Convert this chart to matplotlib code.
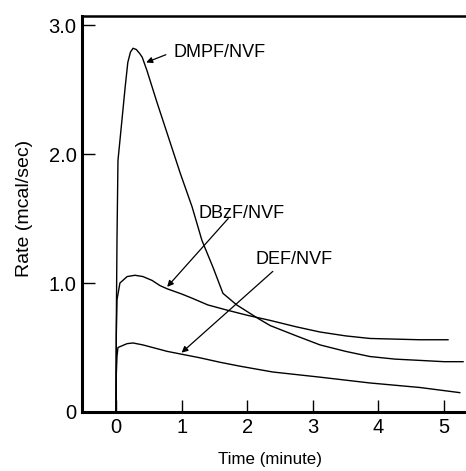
import matplotlib
matplotlib.use("Agg")
import matplotlib.pyplot as plt
from matplotlib.ticker import FixedLocator, FixedFormatter

plt.rcParams['font.family'] = ['Liberation Sans', 'DejaVu Sans']

# Data
dmpf_x = [0, 0.005, 0.015, 0.03, 0.09, 0.14, 0.18, 0.22, 0.26, 0.31, 0.36, 0.40, 0.47,
          0.625, 0.78, 0.98, 1.16, 1.31, 1.48, 1.63, 1.84, 2.15, 2.35, 2.75, 3.11, 3.5,
          3.87, 4.25, 4.63, 5.0, 5.29]
dmpf_y = [0, 0.7, 1.33, 1.95, 2.26, 2.52, 2.71, 2.79, 2.82, 2.81, 2.78, 2.75, 2.65,
          2.40, 2.16, 1.85, 1.59, 1.33, 1.12, 0.92, 0.83, 0.73, 0.67, 0.59, 0.52, 0.47,
          0.43, 0.41, 0.40, 0.39, 0.39]

dbzf_x = [0, 0.005, 0.015, 0.06, 0.17, 0.29, 0.41, 0.55, 0.67, 0.78, 1.0, 1.17, 1.4,
          1.69, 2.0, 2.35, 2.75, 3.11, 3.5, 3.87, 4.25, 4.63, 5.06]
dbzf_y = [0, 0.6, 0.87, 1.0, 1.05, 1.06, 1.05, 1.02, 0.98, 0.955, 0.915, 0.88, 0.83,
          0.79, 0.75, 0.71, 0.66, 0.62, 0.59, 0.57, 0.565, 0.56, 0.56]

def_x = [0, 0.005, 0.015, 0.03, 0.17, 0.26, 0.41, 0.78, 1.28, 1.59, 1.89, 2.39,
         3.11, 3.87, 4.63, 5.24]
def_y = [0, 0.3, 0.43, 0.50, 0.53, 0.535, 0.52, 0.47, 0.42, 0.385, 0.355, 0.31,
         0.27, 0.225, 0.19, 0.15]

x_ticks = [0, 1, 2, 3, 4, 5]
y_ticks = [0, 1, 2, 3]
y_tick_labels = ["0", "1.0", "2.0", "3.0"]

labels = ["DMPF/NVF", "DBzF/NVF", "DEF/NVF"]
label_pos = [(0.87, 2.79), (1.25, 1.54), (2.12, 1.18)]
arrow_tail = [(0.76, 2.77), (1.71, 1.50), (2.39, 1.09)]
arrow_head = [(0.46, 2.71), (0.78, 0.97), (1.0, 0.46)]

fig = plt.figure(figsize=(4.66, 4.71), dpi=100)
ax = fig.add_axes([0.176, 0.1253, 0.824, 0.8407])

for xs, ys in [(dmpf_x, dmpf_y), (dbzf_x, dbzf_y), (def_x, def_y)]:
    ax.plot(xs, ys, color='black', lw=1.0)

for lab, (tx, ty), (ax0, ay0), (hx, hy) in zip(labels, label_pos, arrow_tail, arrow_head):
    ax.text(tx, ty, lab, fontsize=13, va='center', ha='left')
    ax.annotate('', xy=(hx, hy), xytext=(ax0, ay0),
                arrowprops=dict(arrowstyle='-|>', color='black', lw=0.9,
                                mutation_scale=9, shrinkA=0, shrinkB=0))

ax.set_xlim(-0.518, 5.335)
ax.set_ylim(0, 3.07)
ax.xaxis.set_major_locator(FixedLocator(x_ticks))
ax.yaxis.set_major_locator(FixedLocator(y_ticks))
ax.yaxis.set_major_formatter(FixedFormatter(y_tick_labels))

ax.spines['right'].set_visible(False)
ax.spines['left'].set_linewidth(2.2)
ax.spines['bottom'].set_linewidth(2.2)
ax.spines['top'].set_linewidth(1.8)

ax.tick_params(axis='both', direction='in', length=9, width=1.0, labelsize=14.5)
ax.tick_params(axis='x', pad=4.5)
ax.tick_params(axis='y', pad=4)

ax.set_xlabel("Time (minute)", fontsize=12.2)
ax.set_ylabel("Rate (mcal/sec)", fontsize=14)
ax.xaxis.set_label_coords(0.49, -0.101)
ax.yaxis.set_label_coords(-0.128, 0.514)

fig.savefig("out.png", dpi=100)
